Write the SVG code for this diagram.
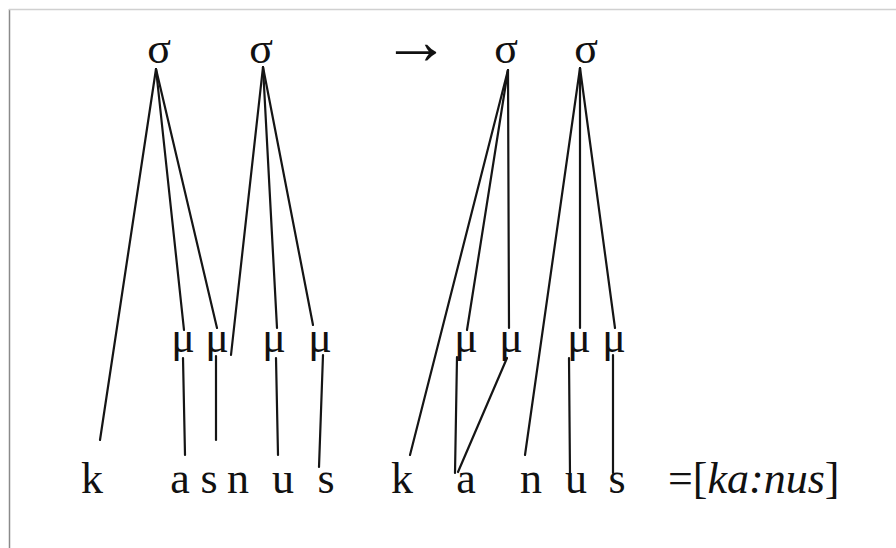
<svg xmlns="http://www.w3.org/2000/svg" width="896" height="548" viewBox="0 0 896 548">
  <style>
    .t { font-family: "Liberation Serif", "Times New Roman", serif; font-size: 44px; fill: #111; text-anchor: middle; }
    .i { font-style: italic; }
    .ln { stroke: #151515; stroke-width: 2.2; fill: none; stroke-linecap: round; }
  </style>
  <defs>
    <filter id="soft" x="-50%" y="-50%" width="200%" height="200%">
      <feGaussianBlur stdDeviation="1.5"/>
    </filter>
  </defs>
  <rect width="896" height="548" fill="#fff"/>
  <!-- frame edge -->
  <g id="frame">
    <line x1="7" y1="9" x2="7" y2="548" stroke="#bbb" stroke-width="3" filter="url(#soft)"/>
    <line x1="9.5" y1="9" x2="9.5" y2="548" stroke="#8a8a8a" stroke-width="1.5"/>
    <line x1="9" y1="9.5" x2="896" y2="9.5" stroke="#d0d0d0" stroke-width="1.5"/>
  </g>

  <g id="connectors">
    <!-- left form: syllable to mora / segment -->
    <line class="ln" x1="156" y1="69" x2="100" y2="440"/>
    <line class="ln" x1="156" y1="69" x2="184" y2="330"/>
    <line class="ln" x1="156" y1="69" x2="217" y2="328"/>
    <line class="ln" x1="263" y1="67" x2="231" y2="355"/>
    <line class="ln" x1="263" y1="67" x2="277" y2="328"/>
    <line class="ln" x1="263" y1="67" x2="313" y2="325"/>
    <!-- left form: mora to segment -->
    <line class="ln" x1="183" y1="358" x2="185" y2="455"/>
    <line class="ln" x1="216" y1="356" x2="216" y2="440"/>
    <line class="ln" x1="276" y1="358" x2="278" y2="455"/>
    <line class="ln" x1="323" y1="355" x2="319" y2="467"/>
    <!-- right form: syllable to mora / segment -->
    <line class="ln" x1="508" y1="70" x2="410" y2="455"/>
    <line class="ln" x1="508" y1="70" x2="467" y2="330"/>
    <line class="ln" x1="508" y1="70" x2="509" y2="328"/>
    <line class="ln" x1="580" y1="68" x2="525" y2="455"/>
    <line class="ln" x1="580" y1="68" x2="580" y2="328"/>
    <line class="ln" x1="580" y1="68" x2="615" y2="328"/>
    <!-- right form: mora to segment -->
    <line class="ln" x1="457" y1="357" x2="455" y2="473"/>
    <line class="ln" x1="507" y1="358" x2="458" y2="472"/>
    <line class="ln" x1="569" y1="358" x2="570" y2="475"/>
    <line class="ln" x1="613" y1="355" x2="613" y2="473"/>
  </g>

  <!-- syllable nodes -->
  <g id="syl1"><text class="t" x="159" y="63">σ</text></g>
  <g id="syl2"><text class="t" x="261" y="63">σ</text></g>
  <g id="arrow"><text class="t" x="416" y="64" style="font-size:68px">→</text></g>
  <g id="syl3"><text class="t" x="506" y="63">σ</text></g>
  <g id="syl4"><text class="t" x="586" y="63">σ</text></g>

  <!-- mora nodes -->
  <g id="mora1"><text class="t" x="183" y="352">μ</text></g>
  <g id="mora2"><text class="t" x="217" y="352">μ</text></g>
  <g id="mora3"><text class="t" x="274" y="352">μ</text></g>
  <g id="mora4"><text class="t" x="320" y="352">μ</text></g>
  <g id="mora5"><text class="t" x="466" y="352">μ</text></g>
  <g id="mora6"><text class="t" x="511" y="352">μ</text></g>
  <g id="mora7"><text class="t" x="579" y="352">μ</text></g>
  <g id="mora8"><text class="t" x="614" y="352">μ</text></g>

  <!-- segments, input form -->
  <g id="seg-k1"><text class="t" x="92" y="493">k</text></g>
  <g id="seg-a1"><text class="t" x="180" y="493">a</text></g>
  <g id="seg-s1"><text class="t" x="209" y="493">s</text></g>
  <g id="seg-n1"><text class="t" x="238" y="493">n</text></g>
  <g id="seg-u1"><text class="t" x="283" y="493">u</text></g>
  <g id="seg-s2"><text class="t" x="326" y="493">s</text></g>

  <!-- segments, output form -->
  <g id="seg-k2"><text class="t" x="402" y="493">k</text></g>
  <g id="seg-a2"><text class="t" x="466" y="493">a</text></g>
  <g id="seg-n2"><text class="t" x="531" y="493">n</text></g>
  <g id="seg-u2"><text class="t" x="576" y="493">u</text></g>
  <g id="seg-s3"><text class="t" x="617" y="493">s</text></g>

  <g id="result"><text class="t" x="668" y="493" style="text-anchor:start">=[<tspan class="i">ka:nus</tspan>]</text></g>
</svg>
